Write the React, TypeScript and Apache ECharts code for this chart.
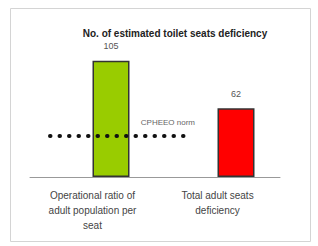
import React, { useEffect, useRef } from "react";
import * as echarts from "echarts";

const categories = ["Operational ratio of\nadult population per\nseat", "Total adult seats\ndeficiency"];
const seatValues = [105, 62];
const normLabel = "CPHEEO norm";
const normValue = 37;
const normSpan = [20, 157];
const titleText = "No. of estimated toilet seats deficiency";
const barColors = ["#99CC00", "#FF0000"];

export default function App() {
  const ref = useRef<HTMLDivElement>(null);
  useEffect(() => {
    if (!ref.current) return;
    const chart = echarts.init(ref.current, null, { renderer: "svg" });
    const font = "'Liberation Sans', Arial, sans-serif";
    chart.setOption({
      animation: false,
      backgroundColor: "#ffffff",
      textStyle: { fontFamily: font },
      title: {
        text: titleText,
        left: 170,
        textAlign: "center",
        top: 23,
        textStyle: { fontSize: 10, fontWeight: "bold", color: "#222", fontFamily: font },
      },
      graphic: [
        {
          type: "rect",
          shape: { x: 10.5, y: 8.5, width: 300, height: 233 },
          style: { fill: "none", stroke: "#d4d4d4", lineWidth: 1 },
          silent: true,
        },
      ],
      grid: { left: 30, right: 38, top: 44, bottom: 69 },
      xAxis: [
        {
          type: "category",
          data: categories,
          axisLine: { lineStyle: { color: "#999", width: 1 } },
          axisTick: { show: false },
          axisLabel: { color: "#444", fontSize: 10, lineHeight: 15, margin: 11, interval: 0, fontFamily: font },
        },
        {
          type: "value",
          min: 0,
          max: 250,
          show: false,
        },
      ],
      yAxis: {
        type: "value",
        min: 0,
        max: 120,
        show: false,
        splitLine: { show: false },
      },
      series: [
        {
          type: "bar",
          data: categories.map(() => "-"),
          barWidth: 37,
          barGap: "0%",
        },
        {
          type: "bar",
          barWidth: 37,
          barGap: "0%",
          data: seatValues.map((v, i) => ({
            value: v,
            itemStyle: { color: barColors[i], borderColor: "#333", borderWidth: 1.5 },
          })),
          label: { show: true, position: "top", distance: 10, fontSize: 9, color: "#555", fontFamily: font },
        },
        {
          type: "line",
          xAxisIndex: 1,
          data: [
            [normSpan[0], normValue],
            {
              value: [normSpan[1], normValue],
              label: {
                show: true,
                formatter: normLabel,
                position: "top",
                align: "right",
                offset: [8, -4],
                fontSize: 8,
                color: "#666",
                fontFamily: font,
              },
            },
          ],
          symbol: "circle",
          symbolSize: 0.1,
          showSymbol: true,
          itemStyle: { color: "rgba(0,0,0,0)" },
          lineStyle: { color: "#111", width: 4, type: [0.5, 9], cap: "round" },
          z: 5,
        },
      ],
    });
    return () => chart.dispose();
  }, []);
  return (
    <div
      ref={ref}
      style={{ position: "fixed", left: 0, top: 0, width: 318, height: 246 }}
    />
  );
}
